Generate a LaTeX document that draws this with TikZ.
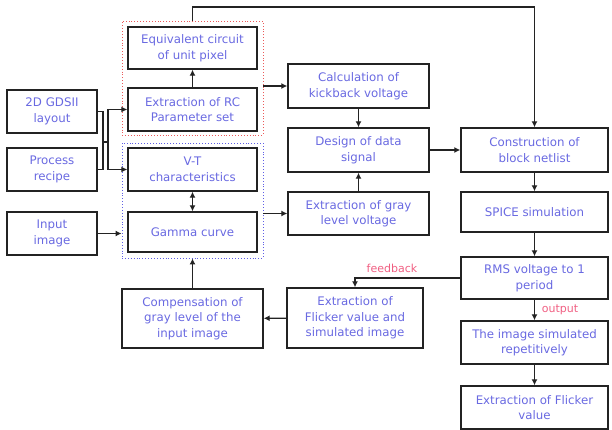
\documentclass[tikz,border=0pt]{standalone}
\usepackage{fontspec}
\setmainfont{DejaVu Sans}
\usetikzlibrary{arrows.meta}
\definecolor{txtblue}{RGB}{105,105,225}
\definecolor{lblpink}{RGB}{240,95,130}
\definecolor{grpred}{RGB}{235,90,90}
\definecolor{grpblue}{RGB}{95,95,230}
\definecolor{edge}{RGB}{35,35,35}
\begin{document}
\begin{tikzpicture}[x=1pt,y=-1pt,
  box/.style={draw=edge, line width=1.4pt, align=center, text=txtblue,
    font=\fontsize{11.8}{15.5}\selectfont, inner sep=0pt},
  grp/.style={draw, dotted, line width=0.9pt, inner sep=0pt},
  conn/.style={draw=edge, line width=1.3pt},
  tip/.tip={Latex[length=6pt,width=6pt]},
  arr/.style={conn, -tip},
  lbl/.style={text=lblpink, font=\fontsize{11}{13}\selectfont, inner sep=1pt}]
\useasboundingbox (0,0) rectangle (612,430);
% group boxes
\node[grp, draw=grpred, minimum width=141, minimum height=114] (redg) at (192.5,78) {};
\node[grp, draw=grpblue, minimum width=141, minimum height=115] (blueg) at (192.5,200.5) {};
% nodes
\node[box, minimum width=129, minimum height=42] (eq) at (192.5,48) {Equivalent circuit\\of unit pixel};
\node[box, minimum width=129, minimum height=43] (rc) at (192.5,109.5) {Extraction of RC\\Parameter set};
\node[box, minimum width=90, minimum height=43] (gds) at (52,111.5) {2D GDSII\\layout};
\node[box, minimum width=90, minimum height=43] (proc) at (52,169.5) {Process\\recipe};
\node[box, minimum width=129, minimum height=43] (vt) at (192.5,169.5) {V-T\\characteristics};
\node[box, minimum width=129, minimum height=40] (gamma) at (192.5,232) {Gamma curve};
\node[box, minimum width=90, minimum height=43] (input) at (52,233.5) {Input\\image};
\node[box, minimum width=141, minimum height=59] (comp) at (192.5,318.5) {Compensation of\\gray level of the\\input image};
\node[box, minimum width=141, minimum height=44] (calc) at (358.5,86) {Calculation of\\kickback voltage};
\node[box, minimum width=141, minimum height=44] (design) at (358.5,150) {Design of data\\signal};
\node[box, minimum width=141, minimum height=43] (gray) at (358.5,213.5) {Extraction of gray\\level voltage};
\node[box, minimum width=147, minimum height=44] (constr) at (534.5,150) {Construction of\\block netlist};
\node[box, minimum width=147, minimum height=40] (spice) at (534.5,212) {SPICE simulation};
\node[box, minimum width=147, minimum height=42] (rms) at (534.5,278) {RMS voltage to 1\\period};
\node[box, minimum width=136, minimum height=60] (flsim) at (355,318) {Extraction of\\Flicker value and\\simulated image};
\node[box, minimum width=147, minimum height=43] (imgsim) at (534.5,342.5) {The image simulated\\repetitively};
\node[box, minimum width=147, minimum height=43] (flick) at (534.5,407.5) {Extraction of Flicker\\value};
% junction
\coordinate (j1) at (103,142);
\coordinate (j2) at (108,142);
\coordinate (top) at (192.5,7);
\draw[conn] (gds.east) -| (j1);
\draw[conn] (proc.east) -| (j1);
\draw[conn] (j1) -- (j2);
\draw[arr] (j2) |- (rc.west);
\draw[arr] (j2) |- (vt.west);
\draw[arr] (redg.north) -- (top) -| (constr.north);
\draw[arr] (rc) -- (eq);
\draw[arr] (redg.east |- calc.west) -- (calc.west);
\draw[arr] (calc) -- (design);
\draw[arr] (gray) -- (design);
\draw[arr] (design) -- (constr);
\draw[arr] (blueg.east |- gray.west) -- (gray.west);
\draw[conn, tip-tip] (vt) -- (gamma);
\draw[arr] (input.east) -- (input.east -| blueg.west);
\draw[arr] (comp) -- (blueg.south);
\draw[arr] (flsim) -- (comp);
\draw[arr] (constr) -- (spice);
\draw[arr] (spice) -- (rms);
\draw[arr] (rms) -- (imgsim);
\draw[arr] (imgsim) -- (flick);
\draw[arr] (rms.west) -| (flsim.north);
\node[lbl] (fb) at (392,268) {feedback};
\node[lbl] (out) at (560,310) {output};
\end{tikzpicture}
\end{document}
